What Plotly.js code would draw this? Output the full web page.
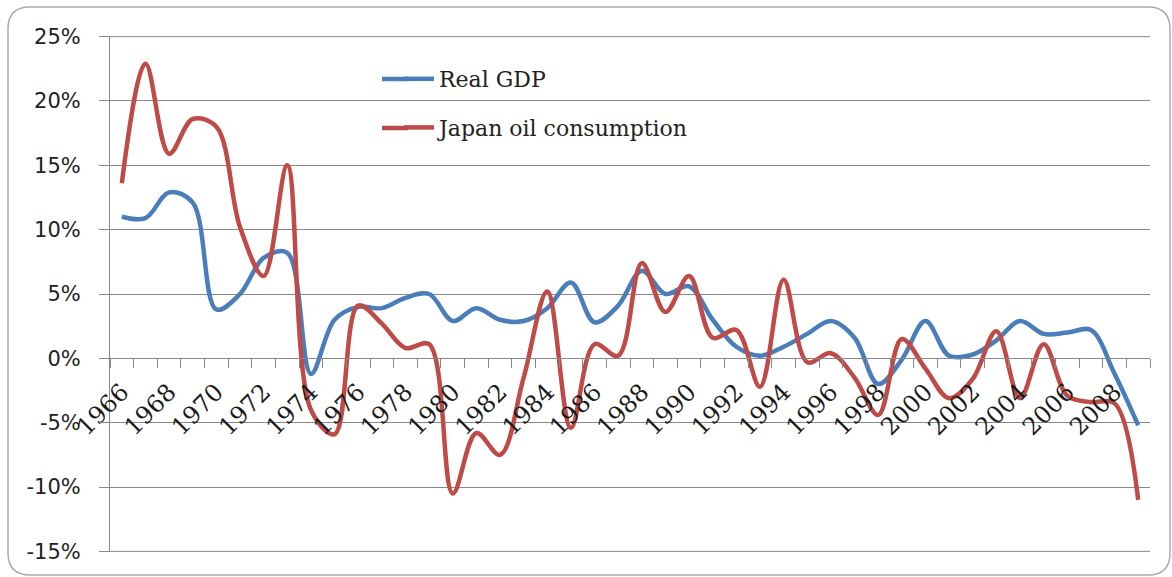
<!DOCTYPE html>
<html>
<head>
<meta charset="utf-8">
<script src="https://cdn.plot.ly/plotly-3.0.1.min.js"></script>
<style>
html,body{margin:0;padding:0;background:#fff;}
#chart{width:1172px;height:577px;}
</style>
</head>
<body>
<div id="chart"></div>
<script>
const years = [1966,1967,1968,1969,1970,1971,1972,1973,1974,1975,1976,1977,1978,1979,1980,1981,1982,1983,1984,1985,1986,1987,1988,1989,1990,1991,1992,1993,1994,1995,1996,1997,1998,1999,2000,2001,2002,2003,2004,2005,2006,2007,2008,2009];
const realGDP = [11.0,10.9,12.9,12.1,3.8,5.0,7.8,8.2,-1.2,3.0,4.0,3.9,4.7,5.0,2.9,3.9,3.0,2.9,3.9,5.9,2.8,4.1,6.8,5.0,5.6,3.0,0.9,0.2,0.9,1.9,2.9,1.6,-2.0,-0.1,2.9,0.2,0.3,1.4,2.9,1.9,2.0,2.2,-1.2,-5.2];
const japanOil = [13.6,22.9,15.9,18.6,18.0,10.2,6.4,15.0,-4.0,-5.9,4.1,2.7,0.8,1.1,-10.5,-5.8,-7.5,-1.5,5.2,-5.4,1.1,0.2,7.4,3.6,6.4,1.6,2.2,-2.2,6.1,-0.3,0.4,-1.5,-4.4,1.5,-0.8,-3.1,-1.6,2.1,-3.1,1.1,-2.9,-3.4,-3.5,-11.0];
const xTickYears = [1966,1968,1970,1972,1974,1976,1978,1980,1982,1984,1986,1988,1990,1992,1994,1996,1998,2000,2002,2004,2006,2008];
const xTickLabels = xTickYears.map(String);
const yTickVals = [-15,-10,-5,0,5,10,15,20,25];
const yTickLabels = ['-15%','-10%','-5%','0%','5%','10%','15%','20%','25%'];

const BLUE = '#4A7EBB', RED = '#BE4B48';

// layout geometry (pixels)
const W = 1172, H = 577;
const mL = 110, mR = 22, mT = 36, mB = 25;
const pw = W - mL - mR, ph = H - mT - mB;
function u(px){ return (px - mL) / pw; }
function v(py){ return (H - mB - py) / ph; }
const bx0 = u(8), bx1 = u(1170), by1 = v(7), by0 = v(575);
const ru = 22 / pw, rv = 22 / ph;
const borderPath = `M${bx0+ru},${by1} L${bx1-ru},${by1} Q${bx1},${by1} ${bx1},${by1-rv} L${bx1},${by0+rv} Q${bx1},${by0} ${bx1-ru},${by0} L${bx0+ru},${by0} Q${bx0},${by0} ${bx0},${by0+rv} L${bx0},${by1-rv} Q${bx0},${by1} ${bx0+ru},${by1} Z`;

const traces = [
  {x: years, y: realGDP, name: 'Real GDP', type: 'scatter', mode: 'lines',
   line: {color: BLUE, width: 4.5, shape: 'spline', smoothing: 1}, legendgroup: 'a'},
  {x: years, y: japanOil, name: 'Japan oil consumption', type: 'scatter', mode: 'lines',
   line: {color: RED, width: 4.5, shape: 'spline', smoothing: 1}, legendgroup: 'b'}
];

const layout = {
  width: W, height: H,
  margin: {l: mL, r: mR, t: mT, b: mB, pad: 0},
  paper_bgcolor: '#ffffff', plot_bgcolor: '#ffffff',
  showlegend: true,
  legend: {x: u(399), y: v(58), xanchor: 'left', yanchor: 'top', bgcolor: 'rgba(0,0,0,0)',
           font: {family: 'DejaVu Serif', size: 22, color: '#222'}, traceorder: 'grouped', tracegroupgap: 17},
  xaxis: {
    range: [1965.5, 2009.5], anchor: 'free', position: 15.05/40.1,
    tickmode: 'array', tickvals: xTickYears, ticktext: xTickLabels,
    tickangle: -45, ticks: '', ticklabelstandoff: 9,
    tickfont: {family: 'DejaVu Serif', size: 24, color: '#1a1a1a'},
    showgrid: false, zeroline: false, showline: true, linecolor: '#888', linewidth: 1,
    minor: {tick0: 1965.5, dtick: 1, ticks: 'outside', ticklen: 9, tickcolor: '#888', tickwidth: 1, showgrid: false}
  },
  yaxis: {
    range: [-15.05, 25.05], tickmode: 'array', tickvals: yTickVals, ticktext: yTickLabels,
    ticks: 'outside', ticklen: 10, tickcolor: '#888', tickwidth: 1, ticklabelstandoff: 14,
    tickfont: {family: 'DejaVu Sans', size: 21, color: '#222'},
    showgrid: true, gridcolor: '#888', gridwidth: 1,
    zeroline: false, showline: true, linecolor: '#888', linewidth: 1
  },
  shapes: [
    {type: 'path', xref: 'paper', yref: 'paper', path: borderPath, line: {color: '#aaaaaa', width: 1.5}, fillcolor: 'rgba(0,0,0,0)', layer: 'below'},
    {type: 'line', xref: 'paper', yref: 'y', x0: 0, x1: 1, y0: yTickVals[0], y1: yTickVals[0], line: {color: '#888', width: 1}, layer: 'below'},
    {type: 'line', xref: 'paper', yref: 'y', x0: 0, x1: 1, y0: yTickVals[yTickVals.length-1], y1: yTickVals[yTickVals.length-1], line: {color: '#888', width: 1}, layer: 'below'},
    // lengthen the legend line samples
    {type: 'line', xref: 'paper', yref: 'paper', x0: u(382), x1: u(408), y0: v(79), y1: v(79), line: {color: BLUE, width: 4.5}, layer: 'above'},
    {type: 'line', xref: 'paper', yref: 'paper', x0: u(382), x1: u(408), y0: v(128), y1: v(128), line: {color: RED, width: 4.5}, layer: 'above'}
  ]
};

Plotly.newPlot('chart', traces, layout, {displayModeBar: false, staticPlot: true});
</script>
</body>
</html>
